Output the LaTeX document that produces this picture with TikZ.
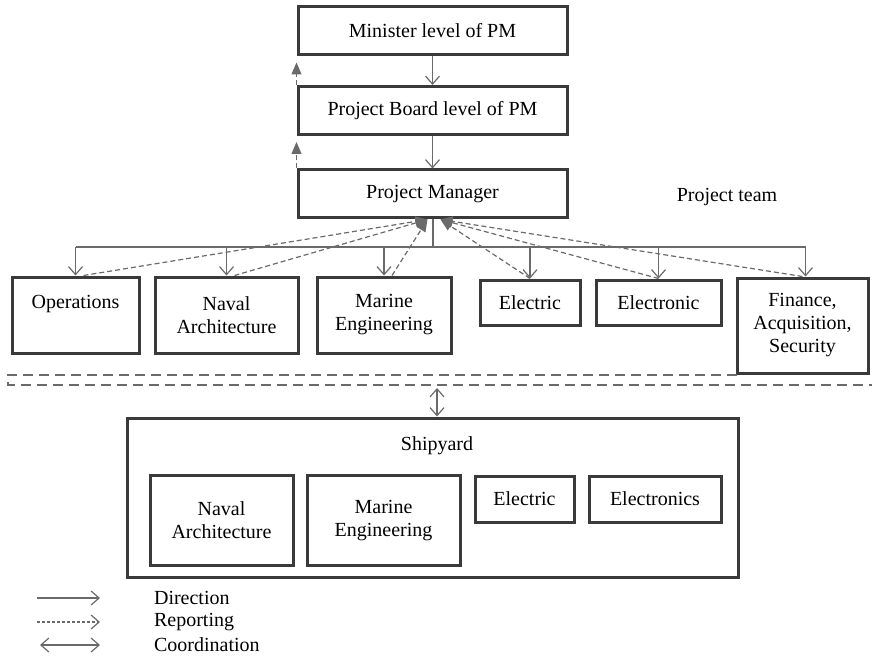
\documentclass[tikz,border=0pt]{standalone}
\usepackage{fontspec}
\setmainfont{Liberation Serif}
\usetikzlibrary{arrows.meta}
\definecolor{boxgray}{HTML}{3A3A3A}
\definecolor{linegray}{HTML}{6A6A6A}
\tikzset{
  box/.style={draw=boxgray, line width=1.5pt, align=center, inner sep=2pt, font=\fontsize{10}{11.5}\selectfont},
  plain/.style={font=\fontsize{10}{11.5}\selectfont},
  link/.style={draw=linegray, line width=0.6pt},
  direct/.style={link, -{Straight Barb[length=4pt,width=7pt]}},
  report/.style={link, dash pattern=on 2.5pt off 1.5pt, -{Triangle[length=6pt,width=5pt]}},
  coordarrow/.style={link, {Straight Barb[length=4pt,width=7pt]}-{Straight Barb[length=4pt,width=7pt]}},
  divider/.style={draw=linegray, line width=0.8pt, dash pattern=on 5pt off 3pt},
}
\begin{document}
\begin{tikzpicture}[x=0.5pt, y=-0.5pt]
    \useasboundingbox (0,0) rectangle (872,663);

    % management levels
    \node[box, minimum width=134.5pt, minimum height=24pt] (minister) at (432.5,31) {Minister level of PM};
    \node[box, minimum width=134.5pt, minimum height=24pt] (board) at (432.5,110.5) {Project Board level of PM};
    \node[box, minimum width=134.5pt, minimum height=24pt] (pm) at (432.5,194) {Project Manager};
    \node[plain] (team) at (727,197) {Project team};

    \draw[direct] (minister) -- (board);
    \draw[direct] (board) -- (pm);
    \draw[report, shorten >=3pt] (pm.north west) -- (board.south west);
    \draw[report, shorten >=3pt] (board.north west) -- (minister.south west);

    % project team
    \node[box, minimum width=63.5pt, minimum height=38pt] (ops) at (75.5,315) {Operations\\[-2pt]\strut};
    \node[box, minimum width=71.5pt, minimum height=38pt] (naval) at (226.5,315) {Naval\\Architecture};
    \node[box, minimum width=67pt, minimum height=38pt] (marine) at (384,315) {Marine\\Engineering};
    \node[box, minimum width=50pt, minimum height=22.5pt] (elec) at (530,302.5) {Electric};
    \node[box, minimum width=62.5pt, minimum height=22.5pt] (elecn) at (658.5,302.5) {Electronic};
    \node[box, minimum width=65.5pt, minimum height=47.5pt] (fin) at (802.5,325.5) {Finance,\\Acquisition,\\Security};

    % direction bus
    \coordinate (bus) at (433,247);
    \draw[link] (pm.south -| bus) -- (bus);
    \draw[link] (ops.north |- bus) -- ([xshift=1.5pt]fin.north |- bus);
    \foreach \n in {ops,naval,marine,elec,elecn} {
        \draw[direct] (\n.north |- bus) -- (\n.north);
    }
    \draw[direct] ([xshift=1.5pt]fin.north |- bus) -- ([xshift=1.5pt]fin.north);

    % reporting lines
    \foreach \n in {ops,naval,marine} {
        \draw[report] ([xshift=4pt]\n.north) -- ([xshift=-2.5pt]pm.south);
    }
    \foreach \n in {elec,elecn,fin} {
        \draw[report] (\n.north) -- ([xshift=4pt]pm.south);
    }

    % divider
    \coordinate (divtop) at (737,375);
    \coordinate (divleft) at (8,375);
    \coordinate (divlow) at (8,385);
    \coordinate (divright) at (872,385);
    \draw[divider] (divtop) -- (divleft) -- (divlow) -- (divright);

    % shipyard
    \node[box, minimum width=305.5pt, minimum height=79.5pt] (yard) at (432.5,497.5) {};
    \node[plain] (yardlabel) at (437,446) {Shipyard};
    \node[box, minimum width=71.5pt, minimum height=45pt] (ynaval) at (221.5,520.5) {Naval\\Architecture};
    \node[box, minimum width=76.5pt, minimum height=45pt] (ymarine) at (383.5,520.5) {Marine\\Engineering};
    \node[box, minimum width=49.5pt, minimum height=23pt] (yelec) at (524.5,499) {Electric};
    \node[box, minimum width=66pt, minimum height=23pt] (yelecn) at (655,499) {Electronics};

    \coordinate (cross) at (437,388);
    \draw[coordarrow] (cross) -- (cross |- yard.north);

    % legend
    \node[plain, anchor=west] (ldir) at (147,598) {Direction};
    \node[plain, anchor=west] (lrep) at (147,622) {Reporting};
    \node[plain, anchor=west] (lcoo) at (147,645) {Coordination};
    \coordinate (adir) at (37,598);
    \coordinate (arep) at (37,622);
    \coordinate (acoo) at (40,645);
    \draw[direct] (adir) -- ++(63,0);
    \draw[link, dash pattern=on 1.5pt off 1pt, -{Straight Barb[length=4pt,width=7pt]}] (arep) -- ++(63,0);
    \draw[coordarrow] (acoo) -- ++(60,0);
\end{tikzpicture}
\end{document}
